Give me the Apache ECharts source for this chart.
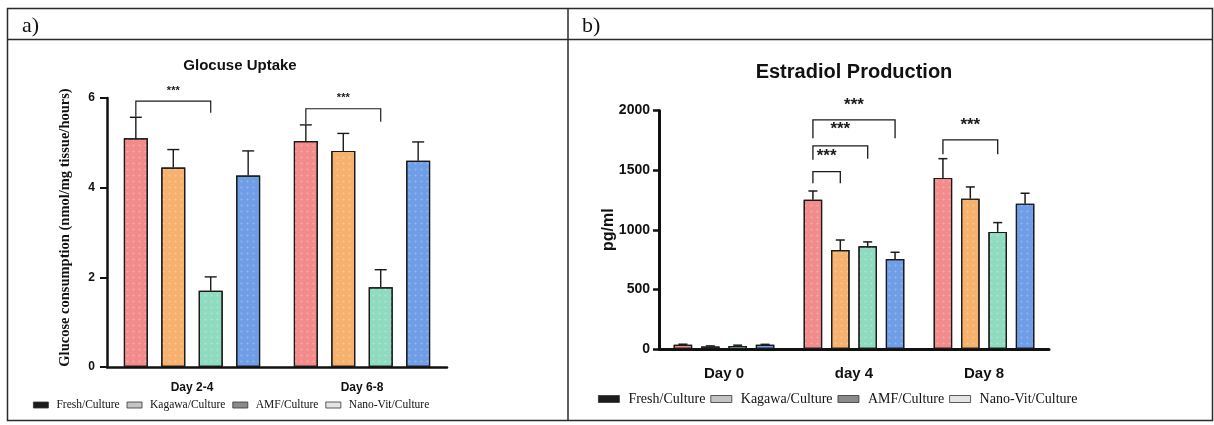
<!DOCTYPE html>
<html>
<head>
<meta charset="utf-8">
<script src="https://cdn.jsdelivr.net/npm/echarts@6/dist/echarts.min.js"></script>
<style>
  html, body { margin: 0; padding: 0; background: #fff; }
  #chart { width: 1214px; height: 425px; }
</style>
</head>
<body>
<div id="chart"></div>
<script>
// ---- data ----
const groupNames = ['Fresh/Culture', 'Kagawa/Culture', 'AMF/Culture', 'Nano-Vit/Culture'];

// a) glucose uptake
const glucoseCats = ['Day 2-4', 'Day 6-8'];
const freshGlucose = [5.10, 5.04];
const kagawaGlucose = [4.45, 4.82];
const amfGlucose = [1.70, 1.78];
const nanoGlucose = [4.27, 4.60];
const freshGlucoseErr = [0.47, 0.36];
const kagawaGlucoseErr = [0.40, 0.39];
const amfGlucoseErr = [0.31, 0.39];
const nanoGlucoseErr = [0.55, 0.42];
const glucoseTicks = [0, 2, 4, 6];
// [category, fromBar, toBar, top, leftLegEnd, rightLegEnd, starsY]
const glucoseSig = [
    [0, 0, 2, 5.93, 5.58, 5.67, 6.16],
    [1, 0, 2, 5.76, 5.42, 5.47, 6.00]
];

// b) estradiol production
const estradiolCats = ['Day 0', 'day 4', 'Day 8'];
const freshE2 = [36, 1252, 1435];
const kagawaE2 = [22, 830, 1261];
const amfE2 = [26, 862, 982];
const nanoE2 = [36, 755, 1219];
const freshE2Err = [4, 73, 161];
const kagawaE2Err = [4, 84, 98];
const amfE2Err = [6, 36, 78];
const nanoE2Err = [3, 56, 87];
const estradiolTicks = [0, 500, 1000, 1500, 2000];
const estradiolSig = [
    [1, 0, 1, 1487, 1390, 1390, 1619],
    [1, 0, 2, 1703, 1586, 1595, 1843],
    [1, 0, 3, 1921, 1768, 1768, 2047],
    [2, 0, 2, 1753, 1633, 1633, 1879]
];

// ---- styles ----
const barColors = ['#f28b8b', '#f6b16e', '#8fdbc0', '#6f9de6'];
const legendColors = ['#1c1c1c', '#c4c4c4', '#8a8a8a', '#e4e4e4'];
const sans = 'Liberation Sans, Arial, sans-serif';
const serif = 'Liberation Serif, Times New Roman, serif';
const dots = {
    symbol: 'circle', symbolSize: 0.7,
    dashArrayX: 3, dashArrayY: 3,
    color: 'rgba(255,255,255,0.28)'
};

const panelA = { bw: 24, gap: 0.56, cap: 12, lw: 1.4, star: 'bold 11px ' + sans };
const panelB = { bw: 18.5, gap: 0.48, cap: 9, lw: 1.5, star: 'bold 17px ' + sans };

function step(p) { return p.bw * (1 + p.gap); }

function barSeries(axis, p, name, i, values) {
    return {
        type: 'bar', name: name,
        xAxisIndex: axis, yAxisIndex: axis,
        data: values,
        barWidth: p.bw, barGap: (p.gap * 100) + '%',
        itemStyle: { color: barColors[i], borderColor: '#1a1a1a', borderWidth: 1.2, decal: dots },
        emphasis: { disabled: true }
    };
}

function errorSeries(axis, p, i, values, errs) {
    return {
        type: 'custom', xAxisIndex: axis, yAxisIndex: axis, clip: false, z: 5,
        data: values.map((v, k) => [k, v, v + errs[k]]),
        renderItem: function (params, api) {
            const base = api.coord([api.value(0), api.value(1)]);
            const top = api.coord([api.value(0), api.value(2)]);
            const x = base[0] + (i - 1.5) * step(p);
            return {
                type: 'group', children: [
                    { type: 'line', shape: { x1: x, y1: base[1], x2: x, y2: top[1] }, style: { stroke: '#1a1a1a', lineWidth: p.lw } },
                    { type: 'line', shape: { x1: x - p.cap / 2, y1: top[1], x2: x + p.cap / 2, y2: top[1] }, style: { stroke: '#1a1a1a', lineWidth: p.lw } }
                ]
            };
        }
    };
}

function sigSeries(axis, p, rows) {
    return {
        type: 'custom', xAxisIndex: axis, yAxisIndex: axis, clip: false, z: 6,
        data: rows,
        renderItem: function (params, api) {
            const c = api.value(0);
            const xl = api.coord([c, 0])[0] + (api.value(1) - 1.5) * step(p);
            const xr = api.coord([c, 0])[0] + (api.value(2) - 1.5) * step(p);
            const yt = api.coord([c, api.value(3)])[1];
            const yl = api.coord([c, api.value(4)])[1];
            const yr = api.coord([c, api.value(5)])[1];
            const ys = api.coord([c, api.value(6)])[1];
            return {
                type: 'group', children: [
                    { type: 'polyline', shape: { points: [[xl, yl], [xl, yt], [xr, yt], [xr, yr]] },
                      style: { stroke: '#1a1a1a', lineWidth: p.lw - 0.2, fill: 'none' } },
                    { type: 'text', x: (xl + xr) / 2, y: ys,
                      style: { text: '***', font: p.star, fill: '#1a1a1a', align: 'center', verticalAlign: 'middle' } }
                ]
            };
        }
    };
}

function legend(left, top, size, w, h, gap, pad) {
    return {
        left: left, top: top, padding: 0, icon: 'rect', itemWidth: w, itemHeight: h, itemGap: gap,
        selectedMode: false,
        data: groupNames.map((n, i) => ({ name: n, itemStyle: { color: legendColors[i], borderColor: '#333', borderWidth: 0.8, decal: 'none' } })),
        textStyle: { fontFamily: serif, fontSize: size, color: '#111', padding: [0, 0, 0, pad] }
    };
}

const chart = echarts.init(document.getElementById('chart'), null, { renderer: 'canvas' });

const option = {
    animation: false,
    backgroundColor: '#fff',
    grid: [
        { left: 107, top: 98, width: 340, height: 269 },
        { left: 659, top: 110.5, width: 390, height: 238.5 }
    ],
    xAxis: [
        {
            gridIndex: 0, type: 'category', data: glucoseCats,
            axisLine: { lineStyle: { color: '#111', width: 2.5 } },
            axisTick: { alignWithLabel: true, length: 6, lineStyle: { color: '#111', width: 2 } },
            axisLabel: { color: '#111', fontFamily: sans, fontWeight: 'bold', fontSize: 12, margin: 15 }
        },
        {
            gridIndex: 1, type: 'category', data: estradiolCats,
            axisLine: { lineStyle: { color: '#111', width: 3 } },
            axisTick: { alignWithLabel: true, length: 8, lineStyle: { color: '#111', width: 2.5 } },
            axisLabel: { color: '#111', fontFamily: sans, fontWeight: 'bold', fontSize: 15, margin: 17 }
        }
    ],
    yAxis: [
        {
            gridIndex: 0, type: 'value', min: glucoseTicks[0], max: glucoseTicks[glucoseTicks.length - 1], interval: 2,
            name: 'Glucose consumption (nmol/mg tissue/hours)', nameLocation: 'middle', nameGap: 34, nameMoveOverlap: false,
            nameTextStyle: { fontFamily: serif, fontWeight: 'bold', fontSize: 14.5, color: '#111', padding: [0, 0, 0, 10] },
            axisLine: { show: true, lineStyle: { color: '#111', width: 2.5 } },
            axisTick: { show: true, length: 7, lineStyle: { color: '#111', width: 2 } },
            axisLabel: { color: '#111', fontFamily: sans, fontWeight: 'bold', fontSize: 12, margin: 12 },
            splitLine: { show: false }
        },
        {
            gridIndex: 1, type: 'value', min: estradiolTicks[0], max: estradiolTicks[estradiolTicks.length - 1], interval: 500,
            name: 'pg/ml', nameLocation: 'middle', nameGap: 42, nameMoveOverlap: false,
            nameTextStyle: { fontFamily: sans, fontWeight: 'bold', fontSize: 16, color: '#111' },
            axisLine: { show: true, lineStyle: { color: '#111', width: 3 } },
            axisTick: { show: true, length: 6, lineStyle: { color: '#111', width: 2.5 } },
            axisLabel: { color: '#111', fontFamily: sans, fontWeight: 'bold', fontSize: 14, margin: 9, formatter: v => String(v) },
            splitLine: { show: false }
        }
    ],
    legend: [
        legend(33, 399, 11.5, 15, 6, 7, 3),
        legend(598, 392, 14, 21, 7, 5, 4)
    ],
    series: [
        barSeries(0, panelA, groupNames[0], 0, freshGlucose),
        barSeries(0, panelA, groupNames[1], 1, kagawaGlucose),
        barSeries(0, panelA, groupNames[2], 2, amfGlucose),
        barSeries(0, panelA, groupNames[3], 3, nanoGlucose),
        errorSeries(0, panelA, 0, freshGlucose, freshGlucoseErr),
        errorSeries(0, panelA, 1, kagawaGlucose, kagawaGlucoseErr),
        errorSeries(0, panelA, 2, amfGlucose, amfGlucoseErr),
        errorSeries(0, panelA, 3, nanoGlucose, nanoGlucoseErr),
        sigSeries(0, panelA, glucoseSig),
        barSeries(1, panelB, groupNames[0], 0, freshE2),
        barSeries(1, panelB, groupNames[1], 1, kagawaE2),
        barSeries(1, panelB, groupNames[2], 2, amfE2),
        barSeries(1, panelB, groupNames[3], 3, nanoE2),
        errorSeries(1, panelB, 0, freshE2, freshE2Err),
        errorSeries(1, panelB, 1, kagawaE2, kagawaE2Err),
        errorSeries(1, panelB, 2, amfE2, amfE2Err),
        errorSeries(1, panelB, 3, nanoE2, nanoE2Err),
        sigSeries(1, panelB, estradiolSig)
    ],
    graphic: [
        // table frame
        { type: 'rect', shape: { x: 7.5, y: 8.5, width: 1205, height: 412 }, style: { fill: 'none', stroke: '#2a2a2a', lineWidth: 1.5 }, z: 100 },
        { type: 'line', shape: { x1: 7.5, y1: 39.5, x2: 1212.5, y2: 39.5 }, style: { stroke: '#2a2a2a', lineWidth: 1.5 }, z: 100 },
        { type: 'line', shape: { x1: 568, y1: 8.5, x2: 568, y2: 420.5 }, style: { stroke: '#2a2a2a', lineWidth: 1.5 }, z: 100 },
        { type: 'text', x: 22, y: 26, style: { text: 'a)', font: '22px ' + serif, fill: '#111', verticalAlign: 'middle' } },
        { type: 'text', x: 582, y: 26, style: { text: 'b)', font: '22px ' + serif, fill: '#111', verticalAlign: 'middle' } },
        // panel titles
        { type: 'text', x: 240, y: 66, style: { text: 'Glocuse Uptake', font: 'bold 15px ' + sans, fill: '#111', align: 'center', verticalAlign: 'middle' } },
        { type: 'text', x: 854, y: 72, style: { text: 'Estradiol Production', font: 'bold 20px ' + sans, fill: '#111', align: 'center', verticalAlign: 'middle' } }
    ]
};

chart.setOption(option);
</script>
</body>
</html>
